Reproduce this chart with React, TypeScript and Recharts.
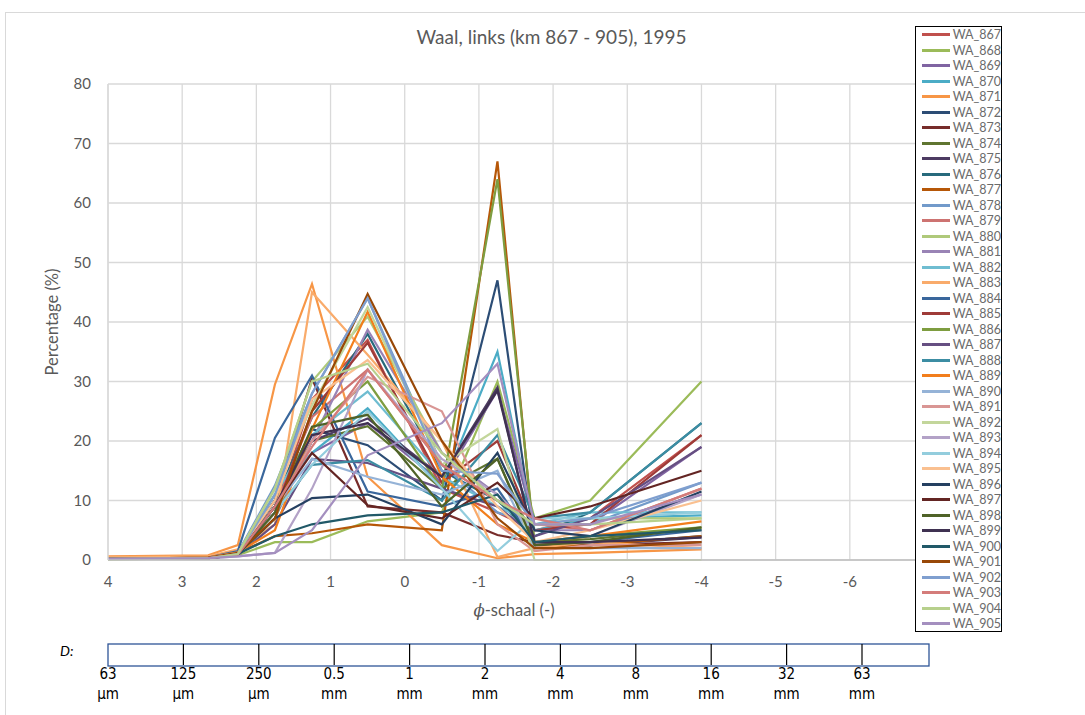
import { LineChart, Line, XAxis, YAxis, CartesianGrid } from 'recharts'

// phi positions of the sieve fractions
const phiPoints = [4, 2.65, 2.25, 1.75, 1.25, 0.5, -0.5, -1.25, -1.75, -2.5, -4]

const xTicks = [4, 3, 2, 1, 0, -1, -2, -3, -4, -5, -6, -7]
const yTicks = [0, 10, 20, 30, 40, 50, 60, 70, 80]

// D scale under the chart
const dPhi = [4, 3, 2, 1, 0, -1, -2, -3, -4, -5, -6]
const dValues = ['63', '125', '250', '0.5', '1', '2', '4', '8', '16', '32', '63']
const dUnits = ['µm', 'µm', 'µm', 'mm', 'mm', 'mm', 'mm', 'mm', 'mm', 'mm', 'mm']

const seriesNames = [
  'WA_867', 'WA_868', 'WA_869', 'WA_870', 'WA_871', 'WA_872', 'WA_873', 'WA_874',
  'WA_875', 'WA_876', 'WA_877', 'WA_878', 'WA_879', 'WA_880', 'WA_881', 'WA_882',
  'WA_883', 'WA_884', 'WA_885', 'WA_886', 'WA_887', 'WA_888', 'WA_889', 'WA_890',
  'WA_891', 'WA_892', 'WA_893', 'WA_894', 'WA_895', 'WA_896', 'WA_897', 'WA_898',
  'WA_899', 'WA_900', 'WA_901', 'WA_902', 'WA_903', 'WA_904', 'WA_905',
]

const seriesColors = [
  '#C0504D', '#9BBB59', '#8064A2', '#4BACC6', '#F79646', '#2C4D75', '#772C2A', '#5F7530',
  '#4D3B62', '#276A7C', '#B65708', '#729ACA', '#CD7371', '#AFC97A', '#9983B5', '#6FBDD1',
  '#F9AB6B', '#3A679C', '#9F3B38', '#7E9D40', '#664F82', '#3C8DA3', '#F27E1C', '#95B3D7',
  '#D99694', '#C3D69B', '#B3A2C7', '#93CDDD', '#FAC090', '#254061', '#632523', '#4F6228',
  '#3F3151', '#215968', '#984807', '#7F9FCF', '#D47C7A', '#B7D08C', '#A48FBF',
]

const wa867 = [0.2, 0.4, 1.0, 8, 27, 37, 12, 8, 5, 7, 21]
const wa868 = [0.1, 0.3, 0.8, 3, 3, 6.5, 8, 30, 7, 10, 30]
const wa869 = [0.2, 0.3, 0.8, 10, 18, 23, 13, 28.5, 6, 6, 19]
const wa870 = [0.2, 0.4, 1.2, 11, 18, 25.5, 12, 35, 5, 7, 7.5]
const wa871 = [0.6, 0.8, 2.5, 29.5, 46.4, 14, 2.5, 0.3, 1, 1.2, 1.8]
const wa872 = [0.2, 0.3, 1.0, 9, 22, 19.3, 10, 47, 2.5, 2.5, 4]
const wa873 = [0.2, 0.4, 1.2, 10, 30.5, 9, 8, 4.2, 3, 2.5, 3]
const wa874 = [0.2, 0.3, 1.0, 9, 20, 22.5, 12, 17, 3, 3.5, 5.3]
const wa875 = [0.2, 0.3, 0.9, 8, 20, 23.8, 14, 29, 2.5, 2.5, 3.8]
const wa876 = [0.2, 0.3, 1.0, 10, 24, 38, 15, 10, 4, 8, 23]
const wa877 = [0.3, 0.4, 1.2, 4, 4.5, 6, 5, 67, 2, 2.5, 4]
const wa878 = [0.2, 0.3, 1.2, 12.5, 28, 44, 16, 8, 6, 6, 13]
const wa879 = [0.2, 0.4, 1.0, 9, 24, 32, 16, 10, 6, 5, 12]
const wa880 = [0.2, 0.3, 1.0, 12, 30, 40.9, 18, 10, 6, 7, 7]
const wa881 = [0.2, 0.3, 0.8, 7, 20, 38.7, 18, 11, 5, 5, 11]
const wa882 = [0.2, 0.3, 1.0, 11, 21, 28.3, 14, 9, 6, 8, 8]
const wa883 = [0.5, 0.6, 1.8, 6, 45, 34.5, 20, 0.5, 2, 3, 2]
const wa884 = [0.2, 0.4, 1.5, 20.5, 31, 11.5, 9, 12, 3, 3, 5]
const wa885 = [0.2, 0.3, 1.0, 8, 25, 36.5, 13, 20, 5, 6, 21]
const wa886 = [0.2, 0.3, 0.9, 7, 22, 30, 12, 64, 3, 4, 5.5]
const wa887 = [0.2, 0.3, 0.8, 6, 17, 16.3, 12, 9, 4, 7, 19]
const wa888 = [0.2, 0.3, 0.9, 8, 16, 16.8, 10, 21, 7, 8, 23]
const wa889 = [0.2, 0.4, 1.3, 5, 22, 41.7, 14, 6, 3, 4, 6.5]
const wa890 = [0.2, 0.3, 1.0, 9, 17, 14, 11, 15, 2, 2, 2]
const wa891 = [0.2, 0.3, 0.9, 8, 20, 30.8, 25, 6, 1.5, 2.5, 2.5]
const wa892 = [0.2, 0.3, 1.0, 12, 26, 42.5, 16, 22, 0, 0, 0]
const wa893 = [0.2, 0.3, 0.6, 1.2, 12, 32, 17, 11, 5, 4, 11]
const wa894 = [0.2, 0.3, 0.8, 8, 16, 25, 12, 1.5, 7, 7, 8]
const wa895 = [0.3, 0.4, 1.2, 10, 27, 33.6, 20, 9, 3, 5, 10]
const wa896 = [0.2, 0.3, 1.0, 7, 10.4, 11, 6, 18, 5, 4, 11.5]
const wa897 = [0.2, 0.3, 0.9, 9, 18, 9.2, 7, 13, 7, 9, 15]
const wa898 = [0.2, 0.3, 0.9, 8, 22.4, 24.4, 9, 17, 2.5, 3, 5.5]
const wa899 = [0.2, 0.3, 0.8, 9, 21, 23, 14, 28.5, 3, 3, 3.8]
const wa900 = [0.2, 0.3, 1.0, 4, 6, 7.5, 8, 11, 3, 4, 5]
const wa901 = [0.2, 0.4, 1.2, 7, 25, 44.7, 20, 7, 2, 2, 3]
const wa902 = [0.2, 0.3, 1.0, 11, 28, 44, 15, 14.5, 6, 7, 13]
const wa903 = [0.2, 0.3, 0.9, 9, 19, 32, 16, 10, 7, 5, 12]
const wa904 = [0.2, 0.3, 1.0, 12, 30, 33, 18, 10, 6, 6, 7]
const wa905 = [0.2, 0.3, 0.6, 1.2, 5, 17.6, 23, 33, 6, 6, 11]

const seriesValues = [
  wa867, wa868, wa869, wa870, wa871, wa872, wa873, wa874, wa875, wa876,
  wa877, wa878, wa879, wa880, wa881, wa882, wa883, wa884, wa885, wa886,
  wa887, wa888, wa889, wa890, wa891, wa892, wa893, wa894, wa895, wa896,
  wa897, wa898, wa899, wa900, wa901, wa902, wa903, wa904, wa905,
]

const data = phiPoints.map((phi, i) => {
  const row: Record<string, number> = { phi }
  seriesNames.forEach((name, s) => {
    row[name] = seriesValues[s][i]
  })
  return row
})

const W = 1085
const H = 715
const PLOT_LEFT = 108
const PLOT_RIGHT = 924
const PLOT_TOP = 84
const PLOT_BOTTOM = 560
const FONT = 'Lato, "Open Sans", sans-serif'
const GREY_TEXT = '#595959'

// D scale box (drawn slightly wider than the phi axis, as in the original)
const D_LEFT = 108
const D_STEP = 75.4
const dX = (p: number) => D_LEFT + (4 - p) * D_STEP

function LegendBox() {
  return (
    <div
      style={{
        position: 'absolute',
        left: 915,
        top: 26,
        border: '1.5px solid #000',
        background: '#fff',
        width: 87,
        height: 606,
        boxSizing: 'border-box',
      }}
    >
      {seriesNames.map((name, i) => (
        <div key={name} style={{ display: 'flex', alignItems: 'center', height: 15.5 }}>
          <span
            style={{
              display: 'inline-block',
              width: 29,
              height: 3,
              marginLeft: 6,
              marginRight: 3,
              background: seriesColors[i],
            }}
          />
          <span style={{ fontFamily: FONT, fontSize: 12.5, lineHeight: '15px', color: '#6b6b6b' }}>{name}</span>
        </div>
      ))}
    </div>
  )
}

export default function App() {
  return (
    <div style={{ position: 'absolute', left: 0, top: 0, width: W, height: H, background: '#fff', overflow: 'hidden' }}>
      <div
        style={{
          position: 'absolute',
          left: 5,
          top: 12,
          width: W,
          height: H,
          border: '1px solid #d9d9d9',
        }}
      />
      <div
        style={{
          position: 'absolute',
          left: 0,
          width: 1103,
          top: 25,
          textAlign: 'center',
          fontFamily: FONT,
          fontSize: 19,
          color: GREY_TEXT,
        }}
      >
        Waal, links (km 867 - 905), 1995
      </div>

      <div style={{ position: 'absolute', left: 0, top: 0 }}>
        <LineChart
          width={W}
          height={H}
          data={data}
          margin={{ top: PLOT_TOP, right: W - PLOT_RIGHT, bottom: 0, left: 0 }}
        >
          <CartesianGrid stroke="#d9d9d9" strokeWidth={1.3} />
          <XAxis
            dataKey="phi"
            type="number"
            domain={[-7, 4]}
            reversed
            ticks={xTicks}
            interval={0}
            height={H - PLOT_BOTTOM}
            tickLine={false}
            tickMargin={10}
            axisLine={{ stroke: '#bfbfbf', strokeWidth: 1.3 }}
            tickFormatter={(v: number) => (v === -7 ? '' : String(v))}
            tick={{ fill: GREY_TEXT, fontSize: 15, fontFamily: FONT }}
          />
          <YAxis
            type="number"
            domain={[0, 80]}
            ticks={yTicks}
            width={PLOT_LEFT}
            tickLine={false}
            tickMargin={11}
            axisLine={{ stroke: '#d9d9d9', strokeWidth: 1.3 }}
            tick={{ fill: GREY_TEXT, fontSize: 15, fontFamily: FONT }}
          />
          {seriesNames.map((name, i) => (
            <Line
              key={name}
              dataKey={name}
              type="linear"
              stroke={seriesColors[i]}
              strokeWidth={2.2}
              dot={false}
              activeDot={false}
              isAnimationActive={false}
            />
          ))}
        </LineChart>
      </div>

      <LegendBox />

      {/* axis titles */}
      <div
        style={{
          position: 'absolute',
          left: 52,
          top: 322,
          transform: 'translate(-50%, -50%) rotate(-90deg)',
          whiteSpace: 'nowrap',
          fontFamily: FONT,
          fontSize: 16.5,
          color: GREY_TEXT,
        }}
      >
        Percentage (%)
      </div>
      <div
        style={{
          position: 'absolute',
          left: 514,
          top: 610,
          transform: 'translate(-50%, -50%)',
          whiteSpace: 'nowrap',
          fontFamily: FONT,
          fontSize: 16.5,
          color: GREY_TEXT,
        }}
      >
        <i style={{ fontFamily: '"DejaVu Serif", serif' }}>ϕ</i>-schaal (-)
      </div>

      {/* grain size scale */}
      <svg style={{ position: 'absolute', left: 0, top: 0 }} width={W} height={H}>
        <text x={60} y={656} fontFamily={FONT} fontStyle="italic" fontSize={14} fill="#000">
          D:
        </text>
        <rect x={D_LEFT} y={644} width={929 - D_LEFT} height={22} fill="none" stroke="#2F5597" strokeWidth={1.3} />
        {dPhi.slice(1).map((p) => (
          <line key={p} x1={dX(p)} x2={dX(p)} y1={644} y2={665} stroke="#000" strokeWidth={1.2} />
        ))}
        {dPhi.map((p, i) => (
          <g key={'l' + p} fontFamily='"DejaVu Sans Condensed", "Liberation Sans Narrow", sans-serif' fontSize={15} fill="#000" textAnchor="middle">
            <text x={dX(p)} y={679}>{dValues[i]}</text>
            <text x={dX(p)} y={699}>{dUnits[i]}</text>
          </g>
        ))}
      </svg>
    </div>
  )
}
